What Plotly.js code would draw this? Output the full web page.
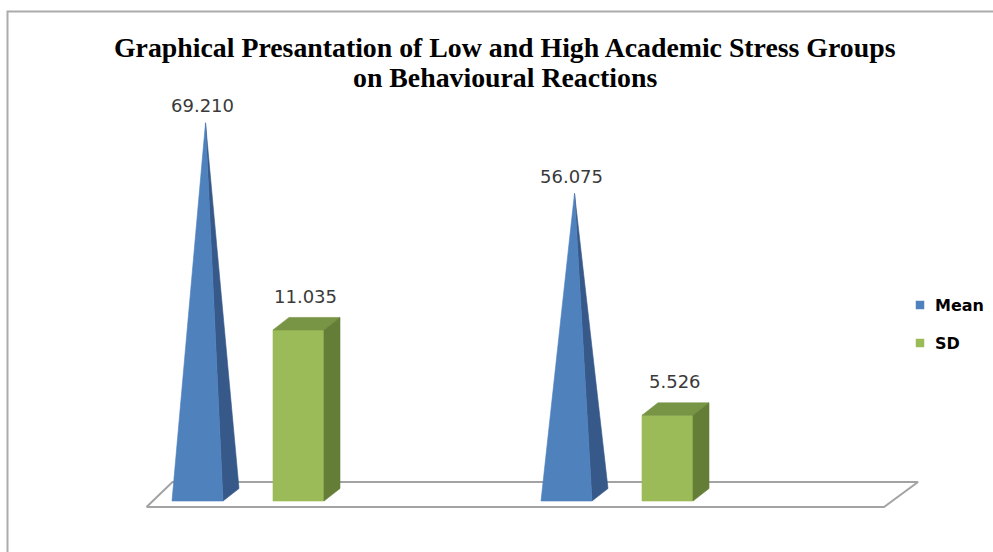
<!DOCTYPE html>
<html>
<head>
<meta charset="utf-8">
<script src="https://cdn.plot.ly/plotly-3.0.1.min.js"></script>
<style>
  html, body { margin: 0; padding: 0; background: #ffffff; }
  #chart { width: 993px; height: 552px; }
</style>
</head>
<body>
<div id="chart"></div>
<script>
// ---- data ----
const CATEGORIES = ['Low Academic Stress', 'High Academic Stress'];
const SERIES_NAMES = ['Mean', 'SD'];
const MEAN = [69.210, 56.075];
const SD = [11.035, 5.526];
const TITLE_LINES = ['Graphical Presantation of Low and High Academic Stress Groups',
                     'on Behavioural Reactions'];

// ---- geometry / style ----
const W = 993, H = 552;
const GROUP_PX = 369;                 // pixel distance between category centres
const FIRST_GROUP_PX = 248;           // pixel position of the first category centre
const XRANGE = [-FIRST_GROUP_PX / GROUP_PX, (W - FIRST_GROUP_PX) / GROUP_PX];
const YRANGE = [-9.49, 93.23];        // Mean axis (hidden)
const Y2RANGE = [-3.29, 32.32];       // SD axis (hidden, overlaid)
const PX_X = W / (XRANGE[1] - XRANGE[0]);
const PX_Y = H / (YRANGE[1] - YRANGE[0]);
const PX_Y2 = H / (Y2RANGE[1] - Y2RANGE[0]);

const BAR_HALF = 25.5 / PX_X;        // half of front face width
const BAR_OFFSET = 50.5 / PX_X;      // distance of each series from category centre
const DEPTH_DX = 16 / PX_X;          // 3-D depth, horizontal part
const DEPTH_PX = 12.5;               // 3-D depth, vertical part (pixels)

const COLORS = {
  meanFront: '#4F81BD', meanSide: '#36598A',
  sdFront: '#9BBB59', sdTop: '#789445', sdSide: '#657E37',
  floor: '#A3A3A3', label: '#3A3A3A'
};

const traces = [];
const annotations = [];
const shapes = [];

// floor of the 3-D plot area
const firstX = 0, lastX = CATEGORIES.length - 1;
const floorFrontY = -6 / PX_Y, floorBackY = 19 / PX_Y;
const floorX = [firstX - 101.5 / PX_X, lastX + 267 / PX_X, lastX + 301 / PX_X, firstX - 75.5 / PX_X];
traces.push({
  type: 'scatter', mode: 'lines', hoverinfo: 'skip', showlegend: false,
  x: [floorX[0], floorX[1], floorX[2], floorX[3], floorX[0]],
  y: [floorFrontY, floorFrontY, floorBackY, floorBackY, floorFrontY],
  fill: 'toself', fillcolor: '#ffffff',
  line: { color: COLORS.floor, width: 2 }
});

function poly(xs, ys, color, yaxis) {
  traces.push({
    type: 'scatter', mode: 'lines', hoverinfo: 'skip', showlegend: false,
    x: xs.concat([xs[0]]), y: ys.concat([ys[0]]), yaxis: yaxis,
    fill: 'toself', fillcolor: color, line: { width: 0.6, color: color }
  });
}

CATEGORIES.forEach((cat, i) => {
  // Mean: pyramid
  const mc = i - BAR_OFFSET;
  const mL = mc - BAR_HALF, mR = mc + BAR_HALF;
  const dyM = DEPTH_PX / PX_Y;
  const apexX = mc + DEPTH_DX / 2, apexY = MEAN[i] + dyM / 2;
  poly([mR, mR + DEPTH_DX, apexX], [0, dyM, apexY], COLORS.meanSide, 'y');
  poly([mL, mR, apexX], [0, 0, apexY], COLORS.meanFront, 'y');
  annotations.push({
    x: apexX, y: apexY, xref: 'x', yref: 'y', text: MEAN[i].toFixed(3),
    showarrow: false, yanchor: 'middle', yshift: 17, xshift: -3,
    font: { family: 'DejaVu Sans', size: 18, color: COLORS.label }
  });

  // SD: box
  const sc = i + BAR_OFFSET;
  const sL = sc - BAR_HALF, sR = sc + BAR_HALF;
  const dyS = DEPTH_PX / PX_Y2;
  const v = SD[i];
  poly([sL, sR, sR, sL], [0, 0, v, v], COLORS.sdFront, 'y2');
  poly([sL, sR, sR + DEPTH_DX, sL + DEPTH_DX], [v, v, v + dyS, v + dyS], COLORS.sdTop, 'y2');
  poly([sR, sR + DEPTH_DX, sR + DEPTH_DX, sR], [0, dyS, v + dyS, v], COLORS.sdSide, 'y2');
  annotations.push({
    x: sc + DEPTH_DX / 2, y: v + dyS, xref: 'x', yref: 'y2', text: v.toFixed(3),
    showarrow: false, yanchor: 'middle', yshift: 21, xshift: -1,
    font: { family: 'DejaVu Sans', size: 18, color: COLORS.label }
  });
});

// legend: swatch + series name, stacked on the right
const LEGEND = { swatchX: 920, textX: 933, rowsY: [305, 343], swatch: 8.5 };
[[SERIES_NAMES[0], COLORS.meanFront], [SERIES_NAMES[1], COLORS.sdFront]].forEach(([name, color], k) => {
  const cy = LEGEND.rowsY[k], h = LEGEND.swatch / 2;
  shapes.push({
    type: 'rect', xref: 'paper', yref: 'paper',
    x0: (LEGEND.swatchX - h) / W, x1: (LEGEND.swatchX + h) / W,
    y0: 1 - (cy + h) / H, y1: 1 - (cy - h) / H,
    fillcolor: color, line: { width: 0 }
  });
  annotations.push({
    xref: 'paper', yref: 'paper', x: LEGEND.textX / W, y: 1 - cy / H,
    xanchor: 'left', yanchor: 'middle', showarrow: false, text: name,
    font: { family: 'DejaVu Sans', size: 16, weight: 'bold', color: '#000000' }
  });
});

// two-line title
const titleY = [48, 78];
TITLE_LINES.forEach((line, k) => {
  annotations.push({
    xref: 'paper', yref: 'paper', x: 504.5 / W, y: 1 - titleY[k] / H,
    xanchor: 'center', yanchor: 'middle', showarrow: false, text: line,
    font: { family: 'Liberation Serif', size: 27.8, weight: 'bold', color: '#000000' }
  });
});

// chart frame (top and left edges)
shapes.push({
  type: 'path', xref: 'paper', yref: 'paper',
  path: `M ${7.5 / W},0 L ${7.5 / W},${1 - 11.5 / H} L 1,${1 - 11.5 / H}`,
  line: { color: '#ABABAB', width: 2 }
});

const layout = {
  width: W, height: H, autosize: false,
  margin: { l: 0, r: 0, t: 0, b: 0, pad: 0 },
  paper_bgcolor: '#ffffff', plot_bgcolor: '#ffffff',
  xaxis: { range: XRANGE, visible: false, fixedrange: true },
  yaxis: { range: YRANGE, visible: false, fixedrange: true },
  yaxis2: { range: Y2RANGE, visible: false, overlaying: 'y', fixedrange: true },
  showlegend: false,
  annotations: annotations,
  shapes: shapes
};

Plotly.newPlot('chart', traces, layout, { staticPlot: true, displayModeBar: false });
</script>
</body>
</html>
